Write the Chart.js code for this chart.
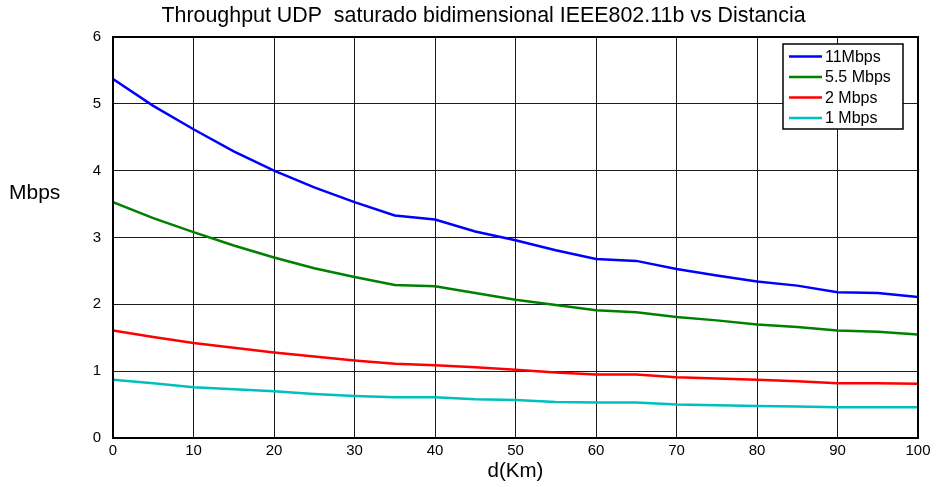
<!DOCTYPE html>
<html lang="es">
<head>
<meta charset="UTF-8">
<title>Throughput UDP vs Distancia</title>
<script src="https://cdn.jsdelivr.net/npm/chart.js"></script>
<style>
  body { margin: 0; background: #fff; }
  #wrap { width: 937px; height: 487px; }
</style>
</head>
<body>
<div id="wrap"><canvas id="chart" width="937" height="487"></canvas></div>
<script>
// distance in km, one point every 5 km
const distancias = [0, 5, 10, 15, 20, 25, 30, 35, 40, 45, 50, 55, 60, 65, 70, 75, 80, 85, 90, 95, 100];

// throughput (Mbps)
const mbps11  = [5.37, 4.97, 4.62, 4.29, 4.00, 3.75, 3.53, 3.33, 3.27, 3.09, 2.96, 2.81, 2.68, 2.65, 2.53, 2.43, 2.34, 2.28, 2.18, 2.17, 2.11];
const mbps55  = [3.53, 3.29, 3.08, 2.88, 2.70, 2.54, 2.41, 2.29, 2.27, 2.17, 2.07, 1.99, 1.91, 1.88, 1.81, 1.76, 1.70, 1.66, 1.61, 1.59, 1.55];
const mbps2   = [1.61, 1.51, 1.42, 1.35, 1.28, 1.22, 1.16, 1.11, 1.09, 1.06, 1.02, 0.98, 0.95, 0.95, 0.91, 0.89, 0.87, 0.85, 0.82, 0.82, 0.81];
const mbps1   = [0.87, 0.82, 0.76, 0.73, 0.70, 0.66, 0.63, 0.61, 0.61, 0.58, 0.57, 0.54, 0.53, 0.53, 0.50, 0.49, 0.48, 0.47, 0.46, 0.46, 0.46];

const etiquetas = ["11Mbps", "5.5 Mbps", "2 Mbps", "1 Mbps"];
const colores = ["#0000ff", "#008000", "#ff0000", "#00bfbf"];
const titulo = "Throughput UDP  saturado bidimensional IEEE802.11b vs Distancia";

function puntos(ys) {
    return distancias.map((d, i) => ({ x: d, y: ys[i] }));
}

const fuente = "'Liberation Sans', Arial, sans-serif";

// title, frame, "Mbps" label and the boxed legend inside the plot
const extras = {
    id: "extras",
    afterDraw(chart) {
        const ctx = chart.ctx;
        const a = chart.chartArea;
        ctx.save();
        ctx.strokeStyle = "#000";
        ctx.lineWidth = 2;
        ctx.strokeRect(a.left, a.top, a.right - a.left, a.bottom - a.top);

        ctx.fillStyle = "#000";
        ctx.textBaseline = "middle";
        ctx.textAlign = "center";
        ctx.font = "21.4px " + fuente;
        ctx.fillText(titulo, 483.5, 16);

        ctx.textAlign = "left";
        ctx.font = "21px " + fuente;
        ctx.fillText("Mbps", 9, 193);

        // legend box
        const lx = 783, ly = 44, lw = 120, lh = 85;
        ctx.fillStyle = "#fff";
        ctx.fillRect(lx, ly, lw, lh);
        ctx.lineWidth = 1.5;
        ctx.strokeStyle = "#000";
        ctx.strokeRect(lx, ly, lw, lh);
        ctx.font = "16px " + fuente;
        chart.data.datasets.forEach((ds, i) => {
            const y = 56.5 + i * 20.5;
            ctx.strokeStyle = ds.borderColor;
            ctx.lineWidth = 2.5;
            ctx.beginPath();
            ctx.moveTo(789, y);
            ctx.lineTo(822, y);
            ctx.stroke();
            ctx.fillStyle = "#000";
            ctx.fillText(ds.label, 825, y + 1);
        });
        ctx.restore();
    }
};

new Chart(document.getElementById("chart"), {
    type: "line",
    data: {
        datasets: [
            { label: etiquetas[0], data: puntos(mbps11), borderColor: colores[0] },
            { label: etiquetas[1], data: puntos(mbps55), borderColor: colores[1] },
            { label: etiquetas[2], data: puntos(mbps2),  borderColor: colores[2] },
            { label: etiquetas[3], data: puntos(mbps1),  borderColor: colores[3] }
        ]
    },
    options: {
        responsive: false,
        animation: false,
        layout: { padding: { left: 0, right: 19, top: 37, bottom: 0 } },
        elements: {
            point: { radius: 0 },
            line: { borderWidth: 2.5, tension: 0, fill: false }
        },
        plugins: {
            legend: { display: false },
            tooltip: { enabled: false },
            title: { display: false }
        },
        scales: {
            x: {
                type: "linear",
                min: 0, max: 100,
                ticks: { stepSize: 10, color: "#000", padding: 4, font: { family: fuente, size: 15 } },
                grid: { color: "#1a1a1a", lineWidth: 1, drawTicks: false },
                border: { display: false },
                title: {
                    display: true, text: "d(Km)", color: "#000",
                    font: { family: fuente, size: 20.5 },
                    padding: { top: 0, bottom: 3 }
                },
                afterFit(scale) { scale.height = 49; }
            },
            y: {
                min: 0, max: 6,
                ticks: { stepSize: 1, color: "#000", padding: 12, font: { family: fuente, size: 15 } },
                grid: { color: "#1a1a1a", lineWidth: 1, drawTicks: false },
                border: { display: false },
                afterFit(scale) { scale.width = 113; }
            }
        }
    },
    plugins: [extras]
});
</script>
</body>
</html>
